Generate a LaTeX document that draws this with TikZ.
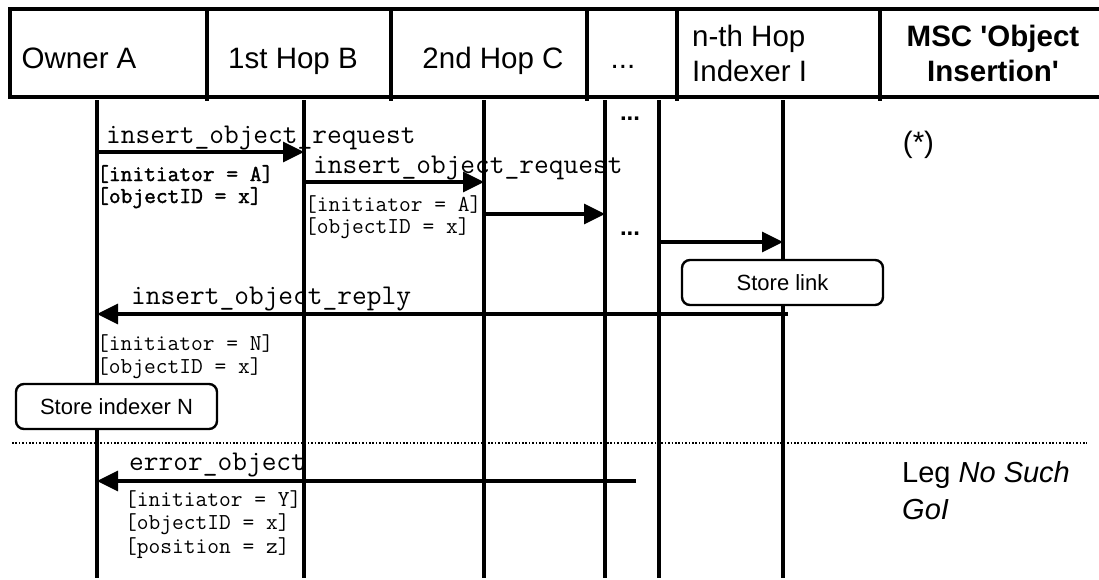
\documentclass[tikz,border=0pt]{standalone}
\usepackage{fontspec}
\setmainfont{Liberation Sans}
\newfontfamily\monofam{Latin Modern Mono}
\newfontfamily\monobold[FakeBold=1.6]{Latin Modern Mono}
\usetikzlibrary{arrows.meta}
\newcommand{\sq}{\XeTeXglyph\XeTeXcharglyph"0027\relax}
\begin{document}
\begin{tikzpicture}[x=1pt,y=-1pt,
  lifeline/.style={line width=3.1pt},
  frame/.style={line width=3.1pt},
  msg/.style={line width=3.1pt,-{Triangle[length=21pt,width=20pt]}},
  msgname/.style={anchor=base west,inner sep=0pt,font=\monofam\fontsize{28.6}{32}\selectfont},
  param/.style={anchor=base west,inner sep=0pt,font=\monofam\fontsize{22.8}{26}\selectfont},
  paramb/.style={anchor=base west,inner sep=0pt,font=\monobold\fontsize{22.8}{26}\selectfont},
  hdr/.style={inner sep=0pt,font=\fontsize{29.5}{35}\selectfont},
  hdrb/.style={inner sep=0pt,font=\bfseries\fontsize{29.5}{35}\selectfont},
  note/.style={inner sep=0pt,anchor=base west,font=\fontsize{29}{35}\selectfont},
  dots/.style={inner sep=0pt,anchor=base,font=\bfseries\fontsize{24}{28}\selectfont},
  action/.style={draw,line width=2.4pt,rounded corners=8pt,minimum width=201pt,minimum height=45pt,inner sep=0pt,font=\fontsize{22}{26}\selectfont},
]
\useasboundingbox (0,0) rectangle (1099,579);
\fill[white] (0,0) rectangle (1099,579);

% header frame
\draw[frame] (1100,9) -- (10,9) -- (10,97) -- (1100,97);
\foreach \x in {207,391,587,677,880} \draw[frame] (\x,9) -- (\x,101);

\node[hdr,anchor=base west] (hA) at (21.5,68.5) {Owner A};
\node[hdr,anchor=base] (hB) at (293,68.5) {1st Hop B};
\node[hdr,anchor=base] (hC) at (493,68.5) {2nd Hop C};
\node[hdr,anchor=base] (hD) at (623,68.5) {...};
\node[hdr,anchor=base west] (hN1) at (692,46) {n-th Hop};
\node[hdr,anchor=base west] (hN2) at (692,81) {Indexer I};
\node[hdrb,anchor=base] (hM1) at (993,46) {MSC \sq Object};
\node[hdrb,anchor=base] (hM2) at (993,81) {Insertion\sq};

% lifelines
\foreach \x/\n in {97/A,304/B,484/C,605/D,659/E,783/N} {
  \coordinate (top\n) at (\x,100);
  \coordinate (bot\n) at (\x,578);
  \draw[lifeline] (top\n) -- (bot\n);
}

% message end points
\coordinate (m1s) at (97,152);  \coordinate (m1e) at (304,152);
\coordinate (m2s) at (304,182); \coordinate (m2e) at (484,182);
\coordinate (m3s) at (484,214); \coordinate (m3e) at (605,214);
\coordinate (m4s) at (659,242); \coordinate (m4e) at (783,242);
\coordinate (m5s) at (788,314); \coordinate (m5e) at (97,314);
\coordinate (m6s) at (636,481); \coordinate (m6e) at (97,481);

\draw[msg] (m1s) -- (m1e);
\draw[msg] (m2s) -- (m2e);
\draw[msg] (m3s) -- (m3e);
\draw[msg] (m4s) -- (m4e);
\draw[msg] (m5s) -- (m5e);
\draw[msg] (m6s) -- (m6e);

% message names
\node[msgname] (n1) at (106,143) {insert\_object\_request};
\node[msgname] (n2) at (313,173) {insert\_object\_request};
\node[msgname] (n5) at (131,304) {insert\_object\_reply};
\node[msgname] (n6) at (129,470) {error\_object};

% parameters
\node[paramb] (p1a) at (97,181) {[initiator = A]};
\node[paramb] (p1b) at (97,203) {[objectID = x]};
\node[param] (p2a) at (305,211) {[initiator = A]};
\node[param] (p2b) at (305,233) {[objectID = x]};
\node[param] (p5a) at (97,350) {[initiator = N]};
\node[param] (p5b) at (97,373) {[objectID = x]};
\node[param] (p6a) at (125,506) {[initiator = Y]};
\node[param] (p6b) at (125,529) {[objectID = x]};
\node[param] (p6c) at (125,553) {[position = z]};

% ellipsis in the lifeline area
\node[dots] (d1) at (630,120) {...};
\node[dots] (d2) at (630,235) {...};

% actions
\node[action,fill=white] (store1) at (782.5,282.5) {Store link};
\node[action,fill=white] (store2) at (116.5,406.5) {Store indexer N};

% separator
\draw[line width=1.6pt,dash pattern=on 1.6pt off 1.8pt] (12,443) -- (1087,443);

% notes
\node[hdr,anchor=base] (star) at (918.5,152) {(*)};
\node[note] (leg1) at (902,482) {Leg \textit{No Such}};
\node[note] (leg2) at (902,519) {\textit{GoI}};
\end{tikzpicture}
\end{document}
